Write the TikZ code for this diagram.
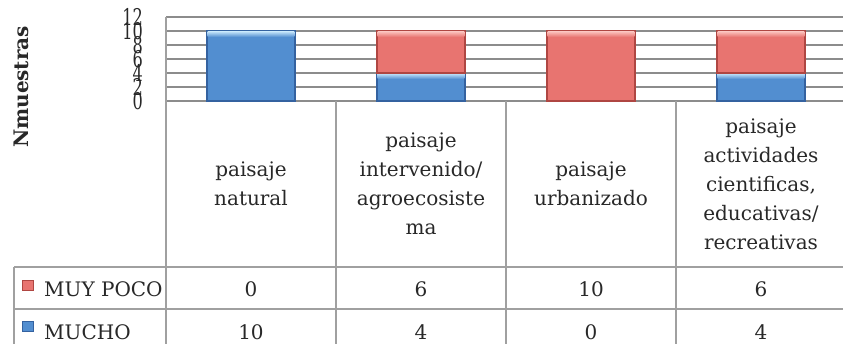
\documentclass[tikz,border=0pt]{standalone}
\usepackage{fontspec}
\setmainfont{DejaVu Serif}
\usetikzlibrary{positioning}

\definecolor{txtgray}{RGB}{40,40,40}
\definecolor{linegray}{RGB}{160,160,160}
\definecolor{gridgray}{RGB}{140,140,140}
\definecolor{mucho}{RGB}{82,142,208}
\definecolor{muchohi}{RGB}{190,224,248}
\definecolor{muchodk}{RGB}{52,98,160}
\definecolor{poco}{RGB}{232,116,112}
\definecolor{pocohi}{RGB}{250,190,185}
\definecolor{pocodk}{RGB}{175,70,66}

\tikzset{
	gridline/.style={draw=gridgray, line width=1.2pt},
	tableline/.style={draw=linegray, line width=1.8pt},
	barmucho/.style={fill=mucho, draw=muchodk, line width=1.4pt},
	barpoco/.style={fill=poco, draw=pocodk, line width=1.4pt},
	glossmucho/.style={top color=muchohi, bottom color=mucho, draw=none},
	glosspoco/.style={top color=pocohi, bottom color=poco, draw=none},
	header/.style={align=center, text=txtgray, font=\fontsize{20}{29}\selectfont},
	cellval/.style={anchor=base, text=txtgray, inner sep=0pt, font=\fontsize{20}{24}\selectfont},
	ticklbl/.style={anchor=east, text=txtgray, inner sep=0pt, font=\fontsize{23}{23}\selectfont},
	legsq/.style={line width=0.6pt}
}

\begin{document}
\begin{tikzpicture}[x=1pt,y=1pt]
	% geometry (1 unit = 1 px of the frame)
	\def\BW{88} \def\U{7} \def\GL{6}
	\useasboundingbox (0,0) rectangle (843,343);
	\clip (0,0) rectangle (843,343);
	
	% gridlines 0..12
	\path[gridline] (166,242) -- (843,242);
	\path[gridline] (166,256) -- (843,256);
	\path[gridline] (166,270) -- (843,270);
	\path[gridline] (166,284) -- (843,284);
	\path[gridline] (166,298) -- (843,298);
	\path[gridline] (166,312) -- (843,312);
	\path[gridline] (166,326) -- (843,326);
	
	% axis numbers
	\node[ticklbl] (t0) at (143,242) {\scalebox{0.7}[1]{0}};
	\node[ticklbl] (t2) at (143,256) {\scalebox{0.7}[1]{2}};
	\node[ticklbl] (t4) at (143,270) {\scalebox{0.7}[1]{4}};
	\node[ticklbl] (t6) at (143,284) {\scalebox{0.7}[1]{6}};
	\node[ticklbl] (t8) at (143,298) {\scalebox{0.7}[1]{8}};
	\node[ticklbl] (t10) at (143,312) {\scalebox{0.7}[1]{10}};
	\node[ticklbl] (t12) at (143,326) {\scalebox{0.7}[1]{12}};
	
	% axis title
	\node[rotate=90, anchor=base, inner sep=0pt, text=txtgray, font=\fontsize{20}{20}\selectfont\bfseries] (ytitle) at (28,256) {Nmuestras};
	
	% paisaje natural
	\begin{scope}[shift={(207,242)}]
		\path[barmucho] (0,0) rectangle (\BW,70);
		\path[glossmucho] (0.7,70-\GL) rectangle (\BW-0.7,69.3);
	\end{scope}
	
	% paisaje intervenido
	\begin{scope}[shift={(377,242)}]
		\path[barmucho] (0,0) rectangle (\BW,28);
		\path[glossmucho] (0.7,28-\GL) rectangle (\BW-0.7,27.3);
		\path[barpoco] (0,28) rectangle (\BW,70);
		\path[glosspoco] (0.7,70-\GL) rectangle (\BW-0.7,69.3);
	\end{scope}
	
	% paisaje urbanizado
	\begin{scope}[shift={(547,242)}]
		\path[barpoco] (0,0) rectangle (\BW,70);
		\path[glosspoco] (0.7,70-\GL) rectangle (\BW-0.7,69.3);
	\end{scope}
	
	% paisaje actividades
	\begin{scope}[shift={(717,242)}]
		\path[barmucho] (0,0) rectangle (\BW,28);
		\path[glossmucho] (0.7,28-\GL) rectangle (\BW-0.7,27.3);
		\path[barpoco] (0,28) rectangle (\BW,70);
		\path[glosspoco] (0.7,70-\GL) rectangle (\BW-0.7,69.3);
	\end{scope}
	
	% data table lines
	\path[tableline] (166,326) -- (166,-5);
	\path[tableline] (336,242) -- (336,-5);
	\path[tableline] (506,242) -- (506,-5);
	\path[tableline] (676,242) -- (676,-5);
	\path[tableline] (14,76) -- (14,-5);
	\path[tableline] (14,76) -- (843,76);
	\path[tableline] (14,34) -- (843,34);
	
	% column headers
	\node[header] (hnat) at (251,159) {paisaje\\natural};
	\node[header] (hint) at (421,159) {paisaje\\intervenido/\\agroecosiste\\ma};
	\node[header] (hurb) at (591,159) {paisaje\\urbanizado};
	\node[header] (hact) at (761,159) {paisaje\\actividades\\cientificas,\\educativas/\\recreativas};
	
	% legend keys
	\path[legsq, fill=poco, draw=pocodk] (22,53) rectangle (33,63);
	\path[legsq, fill=mucho, draw=muchodk] (22,12) rectangle (33,22);
	\node[cellval, anchor=base west] (kpoco) at (44,47) {MUY POCO};
	\node[cellval, anchor=base west] (kmucho) at (44,4) {MUCHO};
	
	% values MUY POCO
	\node[cellval] (p1) at (251,47) {0};
	\node[cellval] (p2) at (421,47) {6};
	\node[cellval] (p3) at (591,47) {10};
	\node[cellval] (p4) at (761,47) {6};
	
	% values MUCHO
	\node[cellval] (m1) at (251,4) {10};
	\node[cellval] (m2) at (421,4) {4};
	\node[cellval] (m3) at (591,4) {0};
	\node[cellval] (m4) at (761,4) {4};
	
\end{tikzpicture}
\end{document}
